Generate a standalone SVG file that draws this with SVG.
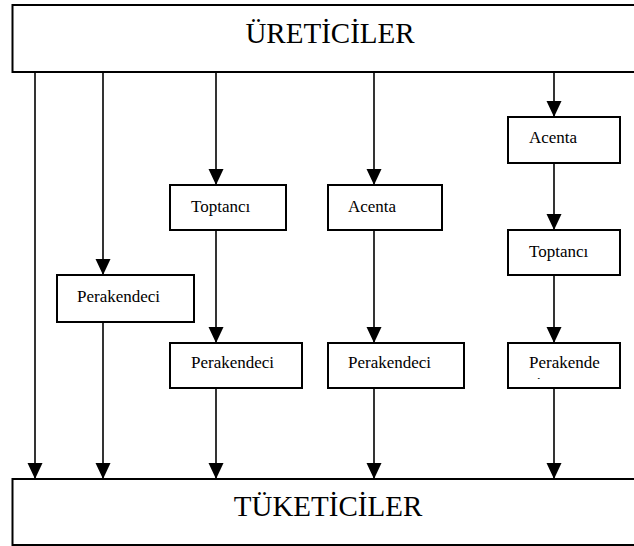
<svg xmlns="http://www.w3.org/2000/svg" width="634" height="546" viewBox="0 0 634 546">
<style>
.box{fill:#fff;stroke:#000;stroke-width:2}
.big{font-family:"Liberation Serif","Times New Roman",serif;font-size:29px;fill:#000}
.lbl{font-family:"Liberation Serif","Times New Roman",serif;font-size:17px;fill:#000}
.con{stroke:#000;stroke-width:1.6;fill:none;marker-end:url(#ah)}
</style>
<defs>
<marker id="ah" markerUnits="userSpaceOnUse" markerWidth="16" markerHeight="16" viewBox="0 0 16 16" refX="16" refY="8" orient="auto">
<path d="M0,0.5 L16,8 L0,15.5 Z" fill="#000"/>
</marker>
<clipPath id="clipR"><rect x="508" y="343" width="112" height="36"/></clipPath>
</defs>
<rect width="634" height="546" fill="#fff"/>
<g id="connectors">
<line class="con" x1="35" y1="72" x2="35" y2="479"/>
<line class="con" x1="103" y1="72" x2="103" y2="275"/>
<line class="con" x1="103" y1="322" x2="103" y2="479"/>
<line class="con" x1="216" y1="72" x2="216" y2="185"/>
<line class="con" x1="216" y1="230" x2="216" y2="343"/>
<line class="con" x1="216" y1="388" x2="216" y2="479"/>
<line class="con" x1="374" y1="72" x2="374" y2="185"/>
<line class="con" x1="374" y1="230" x2="374" y2="343"/>
<line class="con" x1="374" y1="388" x2="374" y2="479"/>
<line class="con" x1="554" y1="72" x2="554" y2="117"/>
<line class="con" x1="554" y1="163" x2="554" y2="230"/>
<line class="con" x1="554" y1="275" x2="554" y2="343"/>
<line class="con" x1="554" y1="388" x2="554" y2="479"/>
</g>
<g id="ureticiler">
<rect class="box" x="12.5" y="5" width="640" height="67"/>
<text class="big" x="330" y="43" text-anchor="middle">ÜRETİCİLER</text>
</g>
<g id="tuketiciler">
<rect class="box" x="12.5" y="479" width="640" height="66"/>
<text class="big" x="328" y="516" text-anchor="middle">TÜKETİCİLER</text>
</g>
<g id="perakendeci1">
<rect class="box" x="57" y="275" width="137" height="47"/>
<text class="lbl" x="77" y="302">Perakendeci</text>
</g>
<g id="toptanci1">
<rect class="box" x="170" y="185" width="116" height="45"/>
<text class="lbl" x="191" y="212">Toptancı</text>
</g>
<g id="perakendeci2">
<rect class="box" x="170" y="343" width="132" height="45"/>
<text class="lbl" x="191" y="368">Perakendeci</text>
</g>
<g id="acenta1">
<rect class="box" x="328" y="185" width="114" height="45"/>
<text class="lbl" x="348" y="212">Acenta</text>
</g>
<g id="perakendeci3">
<rect class="box" x="328" y="343" width="136" height="45"/>
<text class="lbl" x="348" y="368">Perakendeci</text>
</g>
<g id="acenta2">
<rect class="box" x="508" y="117" width="112" height="46"/>
<text class="lbl" x="529" y="143">Acenta</text>
</g>
<g id="toptanci2">
<rect class="box" x="508" y="230" width="112" height="45"/>
<text class="lbl" x="529" y="257">Toptancı</text>
</g>
<g id="perakende">
<rect class="box" x="508" y="343" width="112" height="45"/>
<text class="lbl" x="529" y="368">Perakende</text>
<text class="lbl" x="529" y="389" clip-path="url(#clipR)">ci</text>
</g>
</svg>
